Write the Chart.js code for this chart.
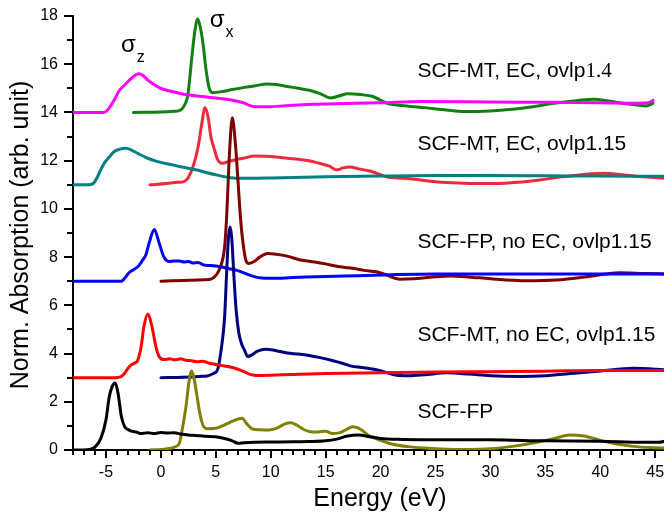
<!DOCTYPE html>
<html>
<head>
<meta charset="utf-8">
<title>Norm. Absorption</title>
<script src="https://cdn.jsdelivr.net/npm/chart.js@4.4.0/dist/chart.umd.min.js"></script>
<style>
  html, body { margin: 0; padding: 0; background: #fff; }
  #wrap { width: 664px; height: 516px; position: relative; }
</style>
</head>
<body>
<div id="wrap"><canvas id="chart"></canvas></div>
<script>
// axis ticks
const xTicks = [-5, 0, 5, 10, 15, 20, 25, 30, 35, 40, 45];
const yTicks = [0, 2, 4, 6, 8, 10, 12, 14, 16, 18];

// SCF-FP, sigma_z (black) and sigma_x (olive)
const fpZ_E = [-8, -7, -6.5, -6, -5.45, -5, -4.7, -4.45, -4.15, -3.9, -3.6, -3.3, -3.0, -2.7, -2.2, -1.8, -1.2, -0.6, 0, 0.6, 1.2, 1.8, 2.5, 3.2, 4, 5, 5.8, 6.5, 7, 7.6, 8.5, 10, 12, 13.5, 15, 16, 17, 18, 19, 20, 22, 25, 30, 35, 40, 44, 45.3, 46];
const fpZ_A = [0, 0, 0.02, 0.12, 0.5, 1.25, 2.2, 2.62, 2.78, 2.35, 1.4, 0.97, 0.85, 0.78, 0.74, 0.68, 0.72, 0.68, 0.73, 0.7, 0.72, 0.66, 0.62, 0.6, 0.57, 0.55, 0.48, 0.38, 0.28, 0.3, 0.32, 0.33, 0.34, 0.35, 0.38, 0.45, 0.58, 0.62, 0.55, 0.48, 0.44, 0.42, 0.42, 0.38, 0.36, 0.32, 0.32, 0.38];
const fpX_E = [-1, 0, 0.9, 1.4, 1.7, 2.0, 2.3, 2.55, 2.8, 3.05, 3.3, 3.6, 3.9, 4.3, 5.0, 5.6, 6.3, 7.0, 7.4, 7.8, 8.3, 9.0, 9.8, 10.6, 11.3, 11.8, 12.3, 13.0, 13.6, 14.3, 15.0, 15.6, 16.3, 17.0, 17.5, 18.2, 19.0, 20.0, 21.0, 22.5, 24, 26, 28, 30, 32, 34, 36, 37.2, 38.5, 40, 41.5, 43, 44.5, 46];
const fpX_A = [0, 0.02, 0.07, 0.15, 0.3, 1.0, 1.85, 2.8, 3.28, 2.9, 2.2, 1.4, 0.97, 0.88, 0.9, 1.0, 1.15, 1.28, 1.32, 1.1, 0.88, 0.84, 0.83, 0.92, 1.08, 1.13, 1.05, 0.85, 0.76, 0.75, 0.78, 0.68, 0.72, 0.88, 0.96, 0.85, 0.58, 0.4, 0.25, 0.14, 0.08, 0.03, 0.02, 0.05, 0.15, 0.3, 0.5, 0.62, 0.58, 0.4, 0.25, 0.15, 0.1, 0.08];

// SCF-MT, no EC, ovlp1.15
const mtZ_E = [-8, -4.2, -3.6, -3.3, -3.0, -2.7, -2.4, -2.1, -1.8, -1.55, -1.2, -0.8, -0.45, -0.15, 0.3, 0.8, 1.3, 1.8, 2.3, 2.8, 3.3, 3.8, 4.4, 5.0, 5.6, 6.2, 6.8, 7.4, 8.0, 8.5, 9.2, 10, 12, 15, 20, 25, 30, 35, 40, 46];
const mtZ_A = [3, 3, 3.05, 3.18, 3.38, 3.53, 3.6, 3.73, 4.28, 5.1, 5.63, 5.1, 4.28, 3.87, 3.75, 3.78, 3.74, 3.78, 3.72, 3.7, 3.66, 3.68, 3.6, 3.55, 3.5, 3.45, 3.38, 3.28, 3.16, 3.1, 3.09, 3.1, 3.13, 3.17, 3.2, 3.23, 3.25, 3.27, 3.3, 3.3];
const mtX_E = [0, 2, 3.5, 4.3, 4.8, 5.15, 5.5, 5.8, 6.0, 6.15, 6.3, 6.45, 6.65, 6.85, 7.1, 7.35, 7.6, 7.9, 8.3, 8.8, 9.5, 10.5, 11.5, 12.5, 13.5, 14.5, 15.5, 16.5, 17.3, 18.3, 19.4, 20.5, 21.5, 22.5, 24, 26, 28, 30, 32.7, 35, 37.6, 40, 43, 46];
const mtX_A = [3, 3.02, 3.05, 3.08, 3.18, 3.32, 4.2, 5.5, 7.5, 8.8, 9.25, 8.8, 7.2, 5.8, 4.84, 4.4, 4.15, 3.88, 3.95, 4.1, 4.18, 4.12, 4.02, 3.98, 3.92, 3.83, 3.72, 3.6, 3.48, 3.42, 3.35, 3.22, 3.1, 3.08, 3.12, 3.2, 3.15, 3.08, 3.05, 3.08, 3.18, 3.28, 3.39, 3.32];

// SCF-FP, no EC, ovlp1.15
const fpNoZ_E = [-8, -4, -3.6, -3.3, -2.9, -2.5, -2.1, -1.7, -1.36, -1.06, -0.6, -0.15, 0.3, 0.75, 1.2, 1.67, 2.1, 2.5, 2.9, 3.4, 3.9, 4.5, 5.45, 6.2, 7.0, 7.8, 8.5, 9.2, 10, 12, 15, 18, 21, 25, 30, 35, 40, 46];
const fpNoZ_A = [7, 7, 7.0, 7.12, 7.35, 7.48, 7.6, 7.85, 8.1, 8.6, 9.15, 8.57, 7.98, 7.82, 7.84, 7.84, 7.8, 7.82, 7.76, 7.78, 7.67, 7.65, 7.6, 7.52, 7.44, 7.3, 7.19, 7.13, 7.12, 7.15, 7.2, 7.23, 7.27, 7.3, 7.3, 7.3, 7.3, 7.3];
const fpNoX_E = [0, 2, 4, 4.5, 5.15, 5.5, 5.8, 6.0, 6.2, 6.5, 6.8, 7.0, 7.25, 7.5, 7.75, 8.0, 8.5, 9.0, 9.7, 10.5, 11.5, 12.7, 14, 15, 16, 17, 17.6, 18.5, 19.6, 20.6, 21.2, 21.8, 23, 24.5, 26.4, 28, 30, 33.3, 36, 38.8, 40.5, 41.8, 44, 46];
const fpNoX_A = [7, 7.03, 7.06, 7.08, 7.33, 7.7, 8.4, 9.8, 11.9, 13.78, 12.6, 11.3, 9.6, 8.5, 7.85, 7.74, 7.82, 8.0, 8.15, 8.12, 8.04, 7.88, 7.8, 7.72, 7.62, 7.56, 7.53, 7.45, 7.39, 7.25, 7.14, 7.08, 7.1, 7.16, 7.22, 7.18, 7.1, 7.02, 7.05, 7.19, 7.3, 7.35, 7.32, 7.3];

// SCF-MT, EC, ovlp1.15
const ec115Z_E = [-8, -6.5, -6.1, -5.8, -5.5, -5.15, -4.7, -4.24, -3.7, -3.2, -2.6, -2.1, -1.2, -0.3, 0.8, 1.8, 3.3, 4.2, 5.15, 6, 7, 8.8, 10, 15, 20, 25, 30, 35, 40, 46];
const ec115Z_A = [11, 11, 11.08, 11.3, 11.6, 11.9, 12.15, 12.38, 12.48, 12.51, 12.42, 12.3, 12.1, 11.96, 11.85, 11.75, 11.61, 11.5, 11.4, 11.32, 11.27, 11.27, 11.28, 11.33, 11.36, 11.38, 11.38, 11.37, 11.36, 11.35];
const ec115X_E = [-1, 0.5, 1.5, 2.1, 2.5, 3.0, 3.4, 3.75, 4.0, 4.3, 4.55, 4.85, 5.15, 5.6, 6.2, 6.7, 7.5, 8.5, 9.5, 10.5, 11.5, 12.5, 13.5, 14.5, 15.3, 16.0, 16.6, 17.2, 18.0, 19.0, 19.8, 20.6, 21.5, 22.7, 24.5, 26.5, 28.5, 30.5, 32.5, 34.5, 36.5, 38.5, 40.3, 42, 44, 46];
const ec115X_A = [11, 11.05, 11.1, 11.13, 11.3, 11.85, 12.6, 13.6, 14.2, 13.8, 13.0, 12.5, 12.05, 11.89, 11.97, 12.03, 12.1, 12.19, 12.18, 12.15, 12.1, 12.06, 12.0, 11.88, 11.78, 11.62, 11.7, 11.74, 11.66, 11.57, 11.45, 11.32, 11.28, 11.25, 11.15, 11.08, 11.05, 11.05, 11.1, 11.2, 11.33, 11.43, 11.48, 11.42, 11.33, 11.27];

// SCF-MT, EC, ovlp1.4
const ec14Z_E = [-8, -5.2, -4.85, -4.24, -3.8, -3.3, -2.6, -2.0, -1.6, -1.2, -0.6, 0, 1.2, 2.4, 4, 5, 6.4, 7.5, 8.5, 10, 12, 15, 20, 23.6, 30, 35, 40, 43, 44.4, 44.8];
const ec14Z_A = [14, 14, 14.1, 14.52, 14.9, 15.14, 15.45, 15.6, 15.52, 15.35, 15.15, 15.0, 14.85, 14.73, 14.65, 14.6, 14.52, 14.4, 14.24, 14.24, 14.3, 14.35, 14.4, 14.45, 14.43, 14.42, 14.4, 14.38, 14.4, 14.5];
const ec14X_E = [-2.5, 0, 1.2, 1.8, 2.2, 2.45, 2.8, 3.1, 3.35, 3.6, 3.85, 4.1, 4.4, 4.7, 5.5, 6.5, 7.6, 8.5, 9.7, 10.5, 11.5, 12.5, 13.5, 14.5, 15.45, 16.2, 17, 18.2, 19.3, 20.6, 22.4, 24, 26, 27.6, 29.5, 31.2, 33.5, 35.8, 38, 39.4, 40.9, 42, 43.3, 44.2, 44.8];
const ec14X_A = [14, 14.02, 14.05, 14.1, 14.35, 14.7, 16.2, 17.4, 17.88, 17.5, 16.8, 15.8, 15.0, 14.82, 14.86, 14.95, 15.04, 15.1, 15.18, 15.16, 15.08, 15.0, 14.92, 14.78, 14.6, 14.68, 14.78, 14.74, 14.66, 14.38, 14.27, 14.2, 14.1, 14.04, 14.05, 14.1, 14.22, 14.38, 14.5, 14.55, 14.46, 14.38, 14.31, 14.27, 14.38];

// text on the plot
const curveLabels = ['SCF-MT, EC, ovlp', 'SCF-MT, EC, ovlp1.15', 'SCF-FP, no EC, ovlp1.15', 'SCF-MT, no EC, ovlp1.15', 'SCF-FP'];

const FONT = '"Liberation Sans", Arial, sans-serif';

function pts(E, A) {
  return E.map((e, i) => ({ x: e, y: A[i] }));
}

function line(E, A, color) {
  return {
    data: pts(E, A),
    borderColor: color,
    borderWidth: 3,
    pointRadius: 0,
    cubicInterpolationMode: 'monotone',
    borderJoinStyle: 'round',
    borderCapStyle: 'round',
    fill: false
  };
}

// minor ticks, axis titles and the in-plot text
const decorations = {
  id: 'decorations',
  afterDraw(chart) {
    const { ctx, chartArea: area, scales: { x, y } } = chart;
    ctx.save();
    ctx.fillStyle = '#000';
    for (let v = Math.ceil(x.min); v <= x.max; v++) {
      if (v % 5 === 0) continue;
      const px = Math.round(x.getPixelForValue(v));
      ctx.fillRect(px - 1, area.bottom, 2, 5);
    }
    for (let v = 1; v < y.max; v += 2) {
      const py = Math.round(y.getPixelForValue(v));
      ctx.fillRect(area.left - 6, py - 1, 6, 2);
    }

    ctx.textBaseline = 'alphabetic';

    // axis titles
    ctx.font = '25px ' + FONT;
    ctx.textAlign = 'center';
    ctx.fillText('Energy (eV)', 380, 506);
    ctx.save();
    ctx.translate(28, 235);
    ctx.rotate(-Math.PI / 2);
    ctx.fillText('Norm. Absorption (arb. unit)', 0, 0);
    ctx.restore();

    // curve labels, placed in data coordinates
    ctx.textAlign = 'left';
    const lx = x.getPixelForValue(23.35);
    const ly = [15.47, 12.44, 8.38, 4.53, 1.31];
    curveLabels.forEach((t, i) => {
      ctx.font = '21px ' + FONT;
      ctx.fillText(t, lx, y.getPixelForValue(ly[i]));
      if (i === 0) {
        const w = ctx.measureText(t).width;
        ctx.font = '21px "Liberation Serif", serif';
        ctx.fillText('1.4', lx + w, y.getPixelForValue(ly[i]));
      }
    });

    // sigma_z / sigma_x markers
    const sigma = (ex, ay, sub) => {
      const px = x.getPixelForValue(ex), py = y.getPixelForValue(ay);
      ctx.font = '24px ' + FONT;
      ctx.fillText('σ', px, py);
      const w = ctx.measureText('σ').width;
      ctx.font = '16px ' + FONT;
      ctx.fillText(sub, px + w + 1, py + 10);
    };
    sigma(-3.64, 16.5, 'z');
    sigma(4.45, 17.56, 'x');
    ctx.restore();
  }
};

new Chart(document.getElementById('chart'), {
  type: 'line',
  data: {
    datasets: [
      line(fpZ_E, fpZ_A, '#000000'),
      line(fpX_E, fpX_A, '#808000'),
      line(mtZ_E, mtZ_A, '#ff0000'),
      line(mtX_E, mtX_A, '#000080'),
      line(fpNoZ_E, fpNoZ_A, '#0000ff'),
      line(fpNoX_E, fpNoX_A, '#800000'),
      line(ec115Z_E, ec115Z_A, '#008080'),
      line(ec115X_E, ec115X_A, '#ee2a3c'),
      line(ec14Z_E, ec14Z_A, '#ff00ff'),
      line(ec14X_E, ec14X_A, '#108010')
    ]
  },
  options: {
    responsive: true,
    maintainAspectRatio: false,
    animation: false,
    events: [],
    layout: { padding: { top: 16, right: 0, bottom: 0, left: 0 } },
    plugins: { legend: { display: false }, tooltip: { enabled: false } },
    scales: {
      x: {
        type: 'linear',
        min: -8,
        max: 45.8,
        grid: { display: true, drawOnChartArea: false, drawTicks: true, tickLength: 8, color: '#000', lineWidth: 2 },
        border: { display: true, color: '#000', width: 2 },
        afterBuildTicks: s => { s.ticks = xTicks.map(v => ({ value: v })); },
        afterFit: s => { s.height = 66; s.paddingLeft = 0; s.paddingRight = 0; },
        ticks: { color: '#000', padding: 5, maxRotation: 0, autoSkip: false, font: { family: FONT, size: 16 } }
      },
      y: {
        min: 0,
        max: 18,
        grid: { display: true, drawOnChartArea: false, drawTicks: true, tickLength: 9, color: '#000', lineWidth: 2 },
        border: { display: true, color: '#000', width: 2 },
        afterBuildTicks: s => { s.ticks = yTicks.map(v => ({ value: v })); },
        afterFit: s => { s.width = 73; s.paddingTop = 0; s.paddingBottom = 0; },
        ticks: { color: '#000', padding: 6, autoSkip: false, font: { family: FONT, size: 16 } }
      }
    }
  },
  plugins: [decorations]
});
</script>
</body>
</html>
